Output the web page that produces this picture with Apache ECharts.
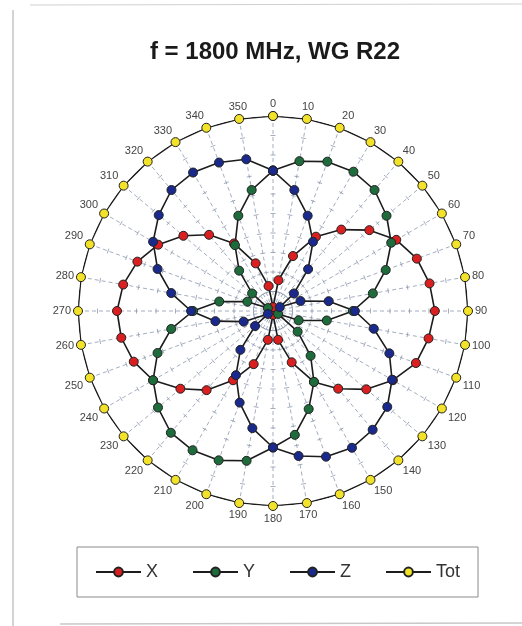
<!DOCTYPE html>
<html>
<head>
<meta charset="utf-8">
<script src="https://cdn.jsdelivr.net/npm/echarts@6/dist/echarts.min.js"></script>
<style>
html,body{margin:0;padding:0;background:#fff;}
#chart{width:522px;height:626px;}
</style>
</head>
<body>
<div id="chart"></div>
<script>
// Angles in degrees (0 at top, clockwise)
const angles = [0,10,20,30,40,50,60,70,80,90,100,110,120,130,140,150,160,170,
                180,190,200,210,220,230,240,250,260,270,280,290,300,310,320,330,340,350];
// Normalised field values (Tot = 1)
const X = [0.02,0.16,0.30,0.44,0.545,0.645,0.73,0.785,0.815,0.83,0.81,0.78,0.71,0.625,0.52,0.42,0.28,0.15,
           0.02,0.15,0.29,0.41,0.53,0.62,0.71,0.76,0.79,0.80,0.78,0.74,0.68,0.60,0.51,0.40,0.26,0.13];
const Y = [0.72,0.78,0.815,0.825,0.81,0.76,0.70,0.615,0.52,0.41,0.28,0.14,0.03,0.165,0.30,0.42,0.535,0.645,
           0.70,0.78,0.815,0.825,0.815,0.77,0.71,0.63,0.53,0.41,0.28,0.14,0.03,0.14,0.27,0.39,0.52,0.63];
const Z = [0.72,0.63,0.52,0.41,0.28,0.14,0.04,0.15,0.29,0.42,0.525,0.635,0.705,0.765,0.795,0.81,0.795,0.755,
           0.70,0.61,0.50,0.38,0.26,0.12,0.03,0.16,0.30,0.42,0.53,0.63,0.71,0.765,0.81,0.82,0.81,0.79];
const Tot = [1,1,1,1,1,1,1,1,1,1,1,1,1,1,1,1,1,1,1,1,1,1,1,1,1,1,1,1,1,1,1,1,1,1,1,1];
// radial grid tick positions
const radiusTicks = [0.1,0.2,0.3,0.4,0.5,0.6,0.7,0.8,0.9];

function closed(vals){
  const d = vals.map((v,i)=>[v,angles[i]]);
  d.push([vals[0],360]);
  return d;
}
const tickData = [];
angles.forEach(a=>{ radiusTicks.forEach(r=>tickData.push([r,a])); });

const chart = echarts.init(document.getElementById('chart'), null, {renderer:'canvas'});
const lineColor = '#1c1c1c';
const gridColor = '#8b98ae';
function mkSeries(name, vals, color){
  return {
    name: name, type:'line', coordinateSystem:'polar',
    data: closed(vals), clip:false,
    symbol:'circle', symbolSize:9, showSymbol:true, showAllSymbol:true,
    lineStyle:{color:lineColor, width:1.6},
    itemStyle:{color:color, borderColor:'#222', borderWidth:1},
    emphasis:{disabled:true},
    animation:false, z:3
  };
}
chart.setOption({
  backgroundColor:'#ffffff',
  animation:false,
  title:{
    text:'f = 1800 MHz, WG R22',
    left:270, top:35, textAlign:'center',
    textStyle:{fontFamily:'Liberation Sans, Arial, sans-serif', fontWeight:'bold', fontSize:24, color:'#1a1a1a'}
  },
  polar:{center:[273,311], radius:195},
  radiusAxis:{
    min:0, max:1,
    axisLine:{show:false}, axisTick:{show:false}, axisLabel:{show:false}, splitLine:{show:false}
  },
  angleAxis:{
    type:'value', min:0, max:360, interval:10, startAngle:90, clockwise:true,
    axisLine:{show:false}, axisTick:{show:false},
    axisLabel:{margin:7, fontSize:11, color:'#444', fontFamily:'Liberation Sans, Arial, sans-serif',
               formatter:function(v){ return v>=360 ? '' : String(v); }},
    splitLine:{show:true, lineStyle:{color:gridColor, width:0.8, type:[4,3]}}
  },
  legend:{
    data:['X','Y','Z','Tot'],
    left:77, top:547,
    orient:'horizontal',
    itemWidth:45, itemHeight:11, itemGap:34,
    padding:[16,18,16,18],
    borderColor:'#8a8a8a', borderWidth:1,
    textStyle:{fontSize:18, color:'#333', fontFamily:'Liberation Sans, Arial, sans-serif'},
    selectedMode:false
  },
  graphic:[
    {type:'line', shape:{x1:13,y1:10,x2:13,y2:626}, style:{stroke:'#c4c4c4', lineWidth:1.5}, silent:true},
    {type:'line', shape:{x1:30,y1:5,x2:522,y2:4}, style:{stroke:'#d0d0d0', lineWidth:1.2}, silent:true},
    {type:'line', shape:{x1:60,y1:624,x2:522,y2:623}, style:{stroke:'#c8c8c8', lineWidth:1.5}, silent:true}
  ],
  series:[
    {
      type:'custom', coordinateSystem:'polar', data:tickData, silent:true, z:1,
      renderItem:function(params, api){
        const r = api.value(0), a = api.value(1);
        const p = api.coord([r, a]);
        const th = a*Math.PI/180;
        const px = Math.cos(th)*2.5, py = Math.sin(th)*2.5;
        return {type:'line', shape:{x1:p[0]-px, y1:p[1]-py, x2:p[0]+px, y2:p[1]+py},
                style:{stroke:gridColor, lineWidth:0.8}};
      }
    },
    mkSeries('X', X, '#d91f1f'),
    mkSeries('Y', Y, '#1e6b3c'),
    mkSeries('Z', Z, '#1a2a8c'),
    mkSeries('Tot', Tot, '#f2e22a')
  ]
});
</script>
</body>
</html>
